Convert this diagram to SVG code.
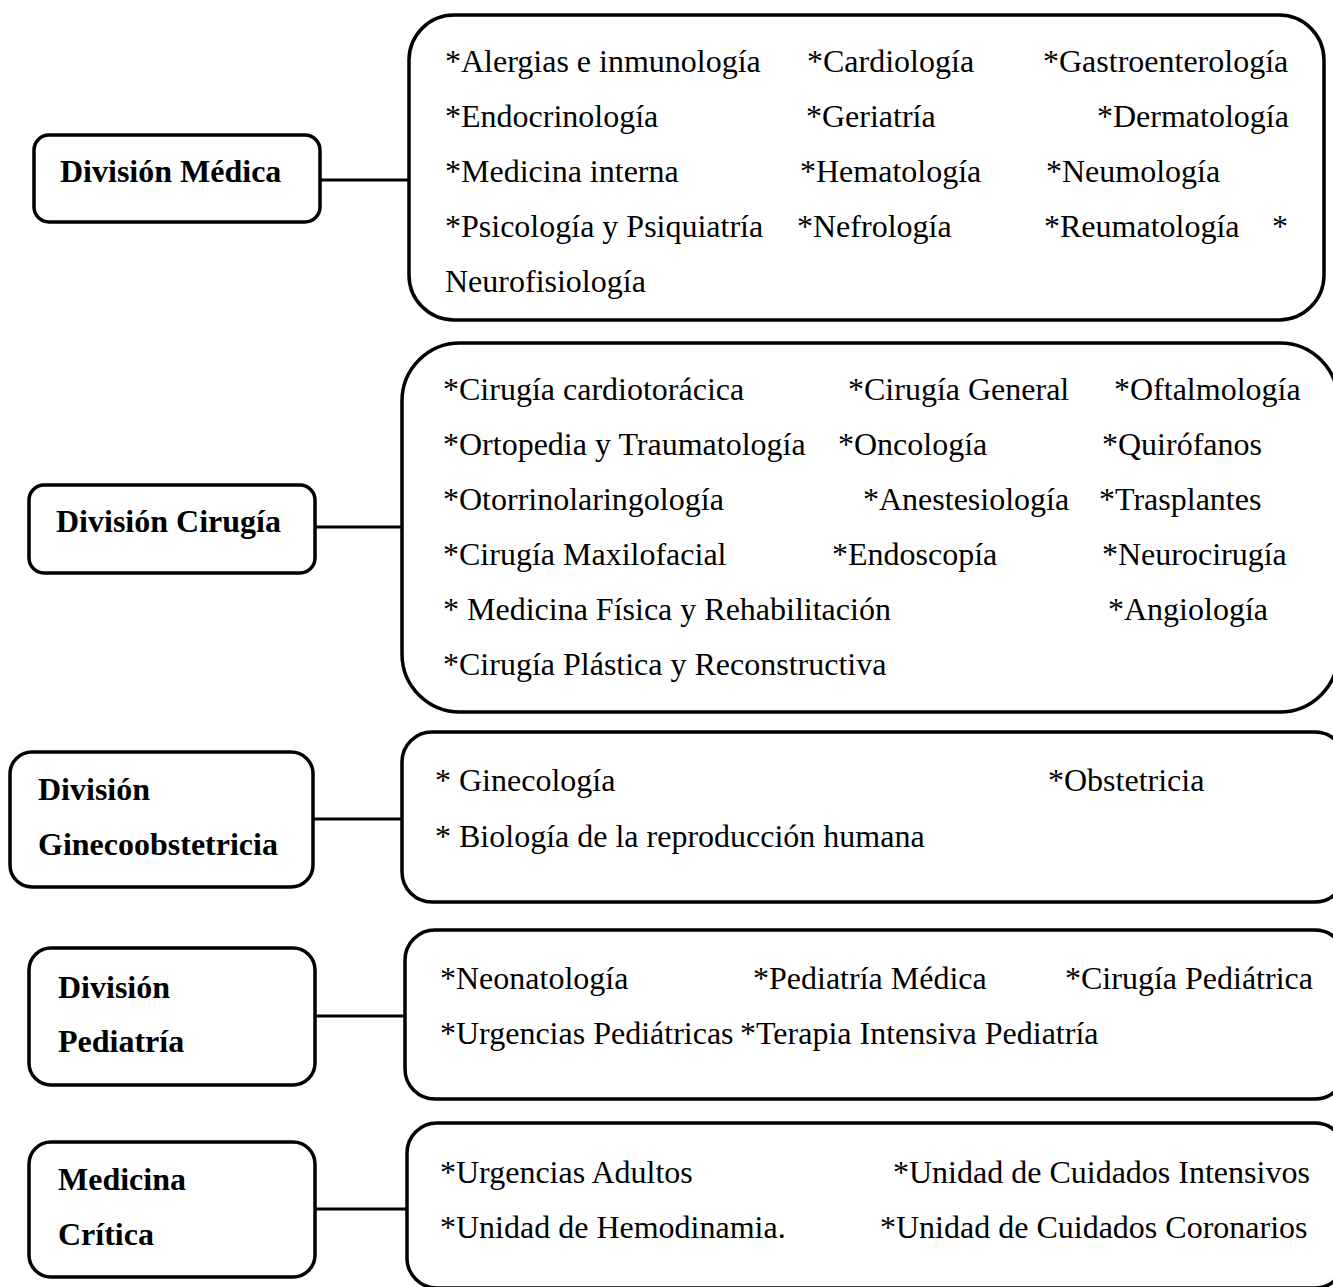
<svg xmlns="http://www.w3.org/2000/svg" width="1333" height="1287" viewBox="0 0 1333 1287">
<style>
.box{fill:#fff;stroke:#000;stroke-width:3.5}
.conn line{stroke:#000;stroke-width:3}
.lbl{font-family:"Liberation Serif","Times New Roman",serif;font-weight:bold;font-size:32px;fill:#000}
.it{font-family:"Liberation Serif","Times New Roman",serif;font-size:32px;fill:#000}
</style>
<rect width="1333" height="1287" fill="#fff"/>
<g id="connectors" class="conn">
<line x1="320" y1="180" x2="409" y2="180"/>
<line x1="315" y1="527" x2="402" y2="527"/>
<line x1="313" y1="819" x2="402" y2="819"/>
<line x1="315" y1="1016" x2="405" y2="1016"/>
<line x1="315" y1="1209" x2="407" y2="1209"/>
</g>
<g id="div-medica">
<rect class="box" x="34" y="135" width="286" height="87" rx="15"/>
<text class="lbl" x="60" y="182">División Médica</text>
</g>
<g id="list-medica">
<rect class="box" x="409" y="15" width="915" height="305" rx="45"/>
<text class="it" x="445" y="72">*Alergias e inmunología</text>
<text class="it" x="807" y="72">*Cardiología</text>
<text class="it" x="1043" y="72">*Gastroenterología</text>
<text class="it" x="445" y="127">*Endocrinología</text>
<text class="it" x="806" y="127">*Geriatría</text>
<text class="it" x="1097" y="127">*Dermatología</text>
<text class="it" x="445" y="182">*Medicina interna</text>
<text class="it" x="800" y="182">*Hematología</text>
<text class="it" x="1046" y="182">*Neumología</text>
<text class="it" x="445" y="237">*Psicología y Psiquiatría</text>
<text class="it" x="797" y="237">*Nefrología</text>
<text class="it" x="1044" y="237">*Reumatología</text>
<text class="it" x="1272" y="237">*</text>
<text class="it" x="445" y="292">Neurofisiología</text>
</g>
<g id="div-cirugia">
<rect class="box" x="29" y="485" width="286" height="88" rx="15"/>
<text class="lbl" x="56" y="532">División Cirugía</text>
</g>
<g id="list-cirugia">
<rect class="box" x="402" y="343" width="936" height="369" rx="58"/>
<text class="it" x="443" y="400">*Cirugía cardiotorácica</text>
<text class="it" x="848" y="400">*Cirugía General</text>
<text class="it" x="1114" y="400">*Oftalmología</text>
<text class="it" x="443" y="455">*Ortopedia y Traumatología</text>
<text class="it" x="838" y="455">*Oncología</text>
<text class="it" x="1102" y="455">*Quirófanos</text>
<text class="it" x="443" y="510">*Otorrinolaringología</text>
<text class="it" x="863" y="510">*Anestesiología</text>
<text class="it" x="1099" y="510">*Trasplantes</text>
<text class="it" x="443" y="565">*Cirugía Maxilofacial</text>
<text class="it" x="832" y="565">*Endoscopía</text>
<text class="it" x="1102" y="565">*Neurocirugía</text>
<text class="it" x="443" y="620">* Medicina Física y Rehabilitación</text>
<text class="it" x="1108" y="620">*Angiología</text>
<text class="it" x="443" y="675">*Cirugía Plástica y Reconstructiva</text>
</g>
<g id="div-gineco">
<rect class="box" x="10" y="752" width="303" height="135" rx="22"/>
<text class="lbl" x="38" y="800">División</text>
<text class="lbl" x="38" y="855">Ginecoobstetricia</text>
</g>
<g id="list-gineco">
<rect class="box" x="402" y="732" width="943" height="170" rx="30"/>
<text class="it" x="435" y="791">* Ginecología</text>
<text class="it" x="1048" y="791">*Obstetricia</text>
<text class="it" x="435" y="847">* Biología de la reproducción humana</text>
</g>
<g id="div-pediatria">
<rect class="box" x="29" y="948" width="286" height="137" rx="22"/>
<text class="lbl" x="58" y="998">División</text>
<text class="lbl" x="58" y="1052">Pediatría</text>
</g>
<g id="list-pediatria">
<rect class="box" x="405" y="930" width="940" height="169" rx="30"/>
<text class="it" x="440" y="989">*Neonatología</text>
<text class="it" x="753" y="989">*Pediatría Médica</text>
<text class="it" x="1065" y="989">*Cirugía Pediátrica</text>
<text class="it" x="440" y="1044">*Urgencias Pediátricas</text>
<text class="it" x="740" y="1044">*Terapia Intensiva Pediatría</text>
</g>
<g id="div-critica">
<rect class="box" x="29" y="1142" width="286" height="135" rx="22"/>
<text class="lbl" x="58" y="1190">Medicina</text>
<text class="lbl" x="58" y="1245">Crítica</text>
</g>
<g id="list-critica">
<rect class="box" x="407" y="1123" width="938" height="165" rx="30"/>
<text class="it" x="440" y="1183">*Urgencias Adultos</text>
<text class="it" x="893" y="1183">*Unidad de Cuidados Intensivos</text>
<text class="it" x="440" y="1238">*Unidad de Hemodinamia.</text>
<text class="it" x="880" y="1238">*Unidad de Cuidados Coronarios</text>
</g>
</svg>
